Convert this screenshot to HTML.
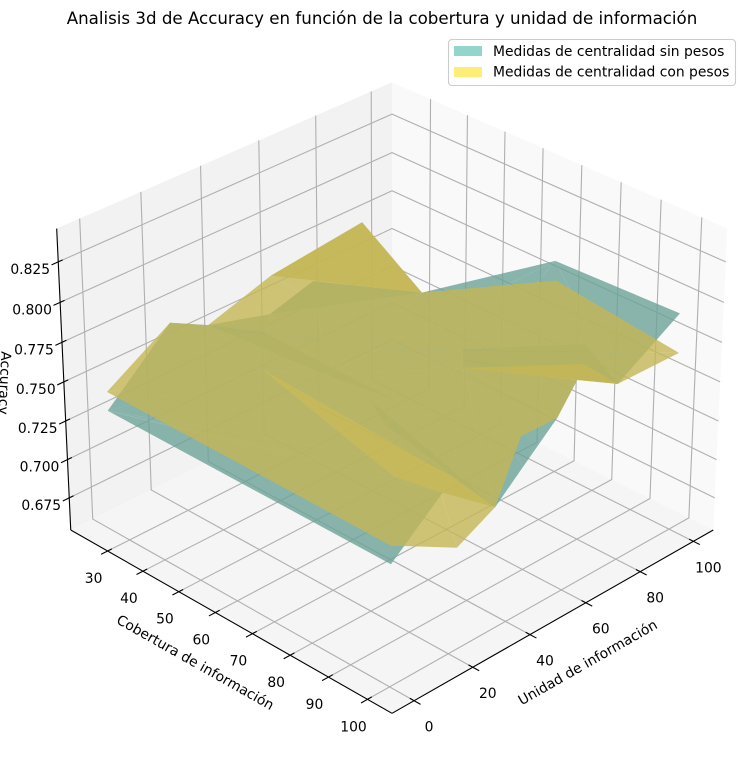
<!DOCTYPE html>
<html lang="es">
<head>
<meta charset="utf-8">
<title>Analisis 3d de Accuracy</title>
<style>
html,body{margin:0;padding:0;background:#fff;}
svg{display:block;font-family:"DejaVu Sans","Liberation Sans",sans-serif;}
</style>
</head>
<body>
<svg id="chart" xmlns="http://www.w3.org/2000/svg" width="751" height="762" viewBox="0 0 751 762">
  <rect x="0" y="0" width="751" height="762" fill="#ffffff"/>
  <g id="panes"></g>
  <g id="grid" fill="none" stroke="#b0b0b0" stroke-width="1.11"></g>
  <g id="axes" stroke="#000000" stroke-width="1.11" fill="none"></g>
  <g id="surfaces"></g>
  <g id="ticklabels" font-size="13.89" fill="#000000" text-anchor="middle"></g>
  <text x="382" y="24" font-size="16.67" text-anchor="middle" fill="#000">Analisis 3d de Accuracy en función de la cobertura y unidad de información</text>
  <text transform="translate(195,663) rotate(29.5)" font-size="13.89" text-anchor="middle" dominant-baseline="middle" fill="#000">Cobertura de información</text>
  <text transform="translate(588,663) rotate(-29.7)" font-size="13.89" text-anchor="middle" dominant-baseline="middle" fill="#000">Unidad de información</text>
  <text transform="translate(4,383) rotate(92.5)" font-size="13.89" text-anchor="middle" dominant-baseline="middle" fill="#000">Accuracy</text>
  <g>
    <rect x="448.5" y="39.5" width="287" height="46" rx="3.5" fill="#ffffff" fill-opacity="0.8" stroke="#cccccc" stroke-width="1.11"/>
    <rect x="454" y="46" width="28" height="10" fill="#8dd3c7" fill-opacity="0.95"/>
    <text x="493" y="56" font-size="13.89" fill="#000">Medidas de centralidad sin pesos</text>
    <rect x="454" y="67" width="28" height="10" fill="#ffed6f" fill-opacity="0.95"/>
    <text x="493" y="76.5" font-size="13.89" fill="#000">Medidas de centralidad con pesos</text>
  </g>
</svg>
<script>
// Axis ticks and limits
const cobTicks = [30, 40, 50, 60, 70, 80, 90, 100];
const uniTicks = [0, 20, 40, 60, 80, 100];
const accTicks = [0.675, 0.700, 0.725, 0.750, 0.775, 0.800, 0.825];
const cobLim = [19.4, 106.2];
const uniLim = [-7.4, 107.6];
const accLim = [0.6538, 0.8454];

// Series "sin pesos": vertices (cobertura, unidad, accuracy) and triangles
const sinCob = [24.5,25.4,24.8,24.2,24.5,33.3,69.5,100.3,99.5,77.6,99.6,98.9,99,99.5,96.2,42.3,80,88.9,98.8,100.2,52.2,38.7,52.3,69.6,72.6,90.1,94.9,66.4,74.7];
const sinUni = [0.7,21.2,34.7,56.9,72,100.3,99.3,100.4,79.4,55.1,64.4,58.6,46.7,36.4,26,31.8,18.9,16.5,19.3,0.2,41.3,36.5,42.2,42.1,61.8,81,73.3,37.8,31.9];
const sinAcc = [0.7303,0.7692,0.7551,0.7421,0.7510,0.7291,0.7915,0.7926,0.7663,0.7720,0.7824,0.7633,0.7442,0.7295,0.7541,0.7496,0.7541,0.7541,0.7541,0.7308,0.7496,0.7653,0.7541,0.7541,0.7720,0.7787,0.7787,0.7541,0.7541];
const sinTri = [[0,1,15],[1,2,15],[2,3,15],[3,20,15],[3,4,20],[4,5,20],[5,6,20],[6,7,8],[6,8,9],[20,6,9],[20,9,14],[15,20,14],[9,10,11],[9,11,12],[9,12,13],[9,13,14],[0,15,16],[0,16,17],[0,17,18],[0,18,19],[3,4,5],[2,21,20],[21,22,20],[22,23,20],[24,25,26],[24,26,9],[25,8,26],[27,28,13]];

// Series "con pesos": vertices (cobertura, unidad, accuracy) and triangles
const conCob = [24.5,25.4,24.8,24.4,24.7,33.3,69.7,100.4,99.5,99.6,98.9,98.7,99.5,99.9,100.2,64.6,42.3,80,88.9,98.8,96.2,77.6,94.9];
const conUni = [0.7,21.2,34.7,57.2,89.6,100.3,99.5,100.5,79.4,64.4,58.6,46.2,36.4,22.8,0.2,50.5,31.8,18.9,16.5,19.3,26,55.1,73.3];
const conAcc = [0.7424,0.7692,0.7551,0.7671,0.7749,0.7291,0.7791,0.7678,0.7663,0.7824,0.7633,0.7633,0.7295,0.7180,0.7422,0.7720,0.7496,0.7541,0.7541,0.7541,0.7541,0.7720,0.7787];
const conTri = [[15,0,1],[15,1,2],[15,2,3],[15,3,4],[15,4,5],[15,5,6],[15,6,7],[15,7,8],[15,8,9],[15,9,10],[15,10,11],[15,11,12],[15,12,13],[15,13,14],[15,14,0],[3,4,5],[16,17,20],[17,18,20],[18,19,20],[19,12,20],[21,22,8],[21,8,9]];

const SVGNS = 'http://www.w3.org/2000/svg';
const BOX_XY = 1.143, BOX_Z = 0.857;

function project(c, u, a) {
  const X = ((c - cobLim[0]) / (cobLim[1] - cobLim[0]) - 0.5) * BOX_XY;
  const Y = ((u - uniLim[0]) / (uniLim[1] - uniLim[0]) - 0.5) * BOX_XY;
  const Z = ((a - accLim[0]) / (accLim[1] - accLim[0]) - 0.5) * BOX_Z;
  const d = 10 - 0.6124 * (X - Y) - 0.5 * Z;
  return [
    392 + 4060 * 0.7071 * (X + Y) / d,
    382.5 - 4060 * (0.3536 * (Y - X) + 0.866 * Z) / d
  ];
}
function ptStr(p) { return p[0].toFixed(2) + ',' + p[1].toFixed(2); }

const panes = document.getElementById('panes');
const grid = document.getElementById('grid');
const axes = document.getElementById('axes');
const surfaces = document.getElementById('surfaces');
const ticklabels = document.getElementById('ticklabels');

const c0 = cobLim[0], c1 = cobLim[1], u0 = uniLim[0], u1 = uniLim[1], a0 = accLim[0], a1 = accLim[1];

function addPane(points, fill) {
  const el = document.createElementNS(SVGNS, 'polygon');
  
  
  el.setAttribute('points', points.map(ptStr).join(' '));
  el.setAttribute('fill', fill);
  panes.appendChild(el);
}
addPane([project(c0,u0,a0), project(c0,u1,a0), project(c0,u1,a1), project(c0,u0,a1)], '#f2f2f2');
addPane([project(c0,u1,a0), project(c1,u1,a0), project(c1,u1,a1), project(c0,u1,a1)], '#f9f9f9');
addPane([project(c0,u0,a0), project(c1,u0,a0), project(c1,u1,a0), project(c0,u1,a0)], '#f5f5f5');

function addGrid(points) {
  const el = document.createElementNS(SVGNS, 'polyline');
  
  
  el.setAttribute('points', points.map(ptStr).join(' '));
  grid.appendChild(el);
}
function addAxisSeg(p, q, name) {
  const el = document.createElementNS(SVGNS, 'line');
  
  
  el.setAttribute('x1', p[0].toFixed(2));
  el.setAttribute('y1', p[1].toFixed(2));
  el.setAttribute('x2', q[0].toFixed(2));
  el.setAttribute('y2', q[1].toFixed(2));
  axes.appendChild(el);
}
function addLabel(x, y, str) {
  const el = document.createElementNS(SVGNS, 'text');
  
  
  el.setAttribute('x', x.toFixed(1));
  el.setAttribute('y', y.toFixed(1));
  el.textContent = str;
  ticklabels.appendChild(el);
}

const OUT = 0.0187, INN = 0.0125;
const uSpan = u1 - u0, cSpan = c1 - c0;

addAxisSeg(project(c0,u0,a0), project(c1,u0,a0), 'x-axis-line');
addAxisSeg(project(c1,u0,a0), project(c1,u1,a0), 'y-axis-line');
addAxisSeg(project(c0,u0,a0), project(c0,u0,a1), 'z-axis-line');

cobTicks.forEach(function (t) {
  addGrid([project(t,u0,a0), project(t,u1,a0), project(t,u1,a1)]);
  addAxisSeg(project(t, u0 - OUT * uSpan, a0), project(t, u0 + INN * uSpan, a0), 'x-tick');
  const p = project(t, u0, a0);
  addLabel(p[0] - 14, p[1] + 32, String(t));
});
uniTicks.forEach(function (t) {
  addGrid([project(c1,t,a0), project(c0,t,a0), project(c0,t,a1)]);
  addAxisSeg(project(c1 + OUT * cSpan, t, a0), project(c1 - INN * cSpan, t, a0), 'y-tick');
  const p = project(c1, t, a0);
  addLabel(p[0] + 15, p[1] + 31, String(t));
});
accTicks.forEach(function (t) {
  addGrid([project(c0,u0,t), project(c0,u1,t), project(c1,u1,t)]);
  addAxisSeg(project(c0, u0 - OUT * uSpan, t), project(c0, u0 + INN * uSpan, t), 'z-tick');
  const p = project(c0, u0, t);
  addLabel(p[0] - 28, p[1] + 12, t.toFixed(3));
});

function drawSeries(cob, uni, acc, tris, color, name) {
  const g = document.createElementNS(SVGNS, 'g');
  
  
  tris.forEach(function (tri) {
    const el = document.createElementNS(SVGNS, 'polygon');
    
    
    el.setAttribute('points', tri.map(function (i) { return ptStr(project(cob[i], uni[i], acc[i])); }).join(' '));
    el.setAttribute('fill', color);
    el.setAttribute('fill-opacity', '0.8');
    g.appendChild(el);
  });
  surfaces.appendChild(g);
}
drawSeries(sinCob, sinUni, sinAcc, sinTri, 'rgb(108,162,153)', 'surface-sin-pesos');
drawSeries(conCob, conUni, conAcc, conTri, 'rgb(196,182,85)', 'surface-con-pesos');
</script>
</body>
</html>
